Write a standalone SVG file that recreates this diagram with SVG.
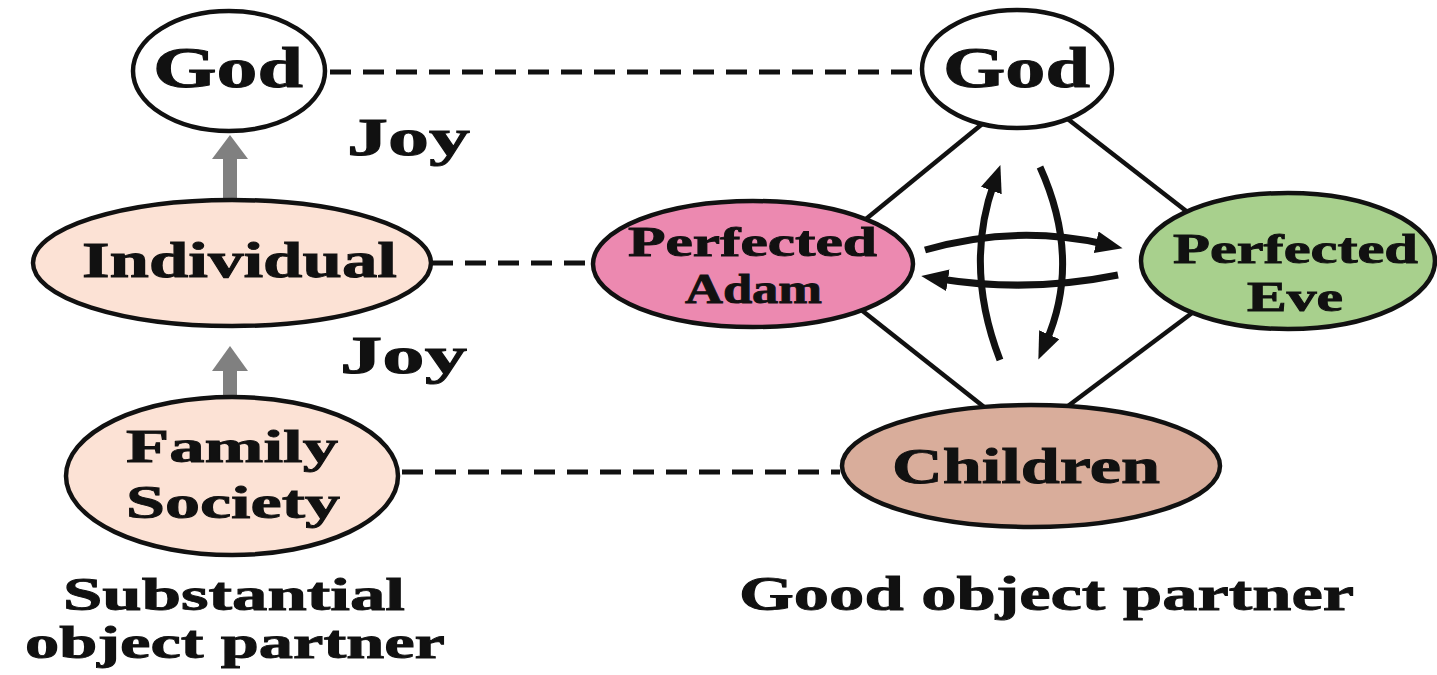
<svg xmlns="http://www.w3.org/2000/svg" width="1437" height="675" viewBox="0 0 1437 675">
<style>
.node{stroke:#111;stroke-width:4.5}
.t{font-family:"Liberation Serif","Times New Roman",serif;font-weight:bold;fill:#111;stroke:#111;stroke-width:0.9}
.dash{stroke:#111;stroke-width:5;stroke-dasharray:21 12;fill:none}
.solid{stroke:#111;stroke-width:4.5;fill:none}
.cur{stroke:#111;stroke-width:7;fill:none;marker-end:url(#ah)}
</style>
<defs>
<marker id="ah" markerUnits="userSpaceOnUse" markerWidth="30" markerHeight="24" refX="8" refY="11" orient="auto">
<path d="M0,0 L27,11 L0,22 z" fill="#111"/>
</marker>
</defs>
<rect width="1437" height="675" fill="#fff"/>
<g id="connectors">
<line class="dash" x1="330" y1="72" x2="922" y2="72"/>
<line class="dash" x1="432" y1="263" x2="594" y2="263"/>
<line class="dash" x1="402" y1="472" x2="840" y2="472"/>
<line class="solid" x1="992" y1="116" x2="855" y2="228"/>
<line class="solid" x1="1060" y1="113" x2="1190" y2="214"/>
<line class="solid" x1="850" y1="301" x2="998" y2="418"/>
<line class="solid" x1="1204" y1="304" x2="1052" y2="418"/>
<rect x="223" y="158" width="14" height="42" fill="#808080"/>
<polygon points="212,159 248,159 230,135" fill="#808080"/>
<rect x="223" y="370" width="14" height="33" fill="#808080"/>
<polygon points="212,371 248,371 230,346" fill="#808080"/>
<path class="cur" d="M925,250 Q1015,224 1104,244"/>
<path class="cur" d="M1118,275 Q1029,293 940,279"/>
<path class="cur" d="M1000,360 Q964,267 994,183"/>
<path class="cur" d="M1040,167 Q1082,260 1046,342"/>
</g>
<g id="god-left"><ellipse class="node" cx="229" cy="71" rx="96" ry="60" fill="#fff"/><text class="t" x="153" y="87" font-size="56" textLength="150" lengthAdjust="spacingAndGlyphs">God</text></g>
<g id="god-right"><ellipse class="node" cx="1017" cy="69" rx="95" ry="59" fill="#fff"/><text class="t" x="943" y="87" font-size="56" textLength="147" lengthAdjust="spacingAndGlyphs">God</text></g>
<g id="joy1"><text class="t" x="347" y="155" font-size="52" textLength="123" lengthAdjust="spacingAndGlyphs">Joy</text></g>
<g id="joy2"><text class="t" x="340" y="373" font-size="52" textLength="127" lengthAdjust="spacingAndGlyphs">Joy</text></g>
<g id="individual"><ellipse class="node" cx="232" cy="263" rx="199" ry="63" fill="#fce2d5"/><text class="t" x="82" y="277" font-size="50" textLength="315" lengthAdjust="spacingAndGlyphs">Individual</text></g>
<g id="family"><ellipse class="node" cx="232" cy="476" rx="166" ry="79" fill="#fce2d5"/><text class="t" x="126" y="462" font-size="47" textLength="212" lengthAdjust="spacingAndGlyphs">Family</text><text class="t" x="126" y="518" font-size="47" textLength="214" lengthAdjust="spacingAndGlyphs">Society</text></g>
<g id="adam"><ellipse class="node" cx="753" cy="264" rx="160" ry="63" fill="#ec89b0"/><text class="t" x="628" y="256" font-size="42" textLength="249" lengthAdjust="spacingAndGlyphs">Perfected</text><text class="t" x="685" y="303" font-size="42" textLength="137" lengthAdjust="spacingAndGlyphs">Adam</text></g>
<g id="eve"><ellipse class="node" cx="1288" cy="261" rx="147" ry="68" fill="#a8d08d"/><text class="t" x="1173" y="263" font-size="42" textLength="245" lengthAdjust="spacingAndGlyphs">Perfected</text><text class="t" x="1247" y="311" font-size="42" textLength="96" lengthAdjust="spacingAndGlyphs">Eve</text></g>
<g id="children"><ellipse class="node" cx="1031" cy="466" rx="189" ry="61" fill="#d9ad9b"/><text class="t" x="892" y="483" font-size="50" textLength="268" lengthAdjust="spacingAndGlyphs">Children</text></g>
<g id="labels">
<text class="t" x="63" y="610" font-size="46" textLength="342" lengthAdjust="spacingAndGlyphs">Substantial</text>
<text class="t" x="25" y="658" font-size="46" textLength="420" lengthAdjust="spacingAndGlyphs">object partner</text>
<text class="t" x="739" y="610" font-size="48" textLength="615" lengthAdjust="spacingAndGlyphs">Good object partner</text>
</g>
</svg>
